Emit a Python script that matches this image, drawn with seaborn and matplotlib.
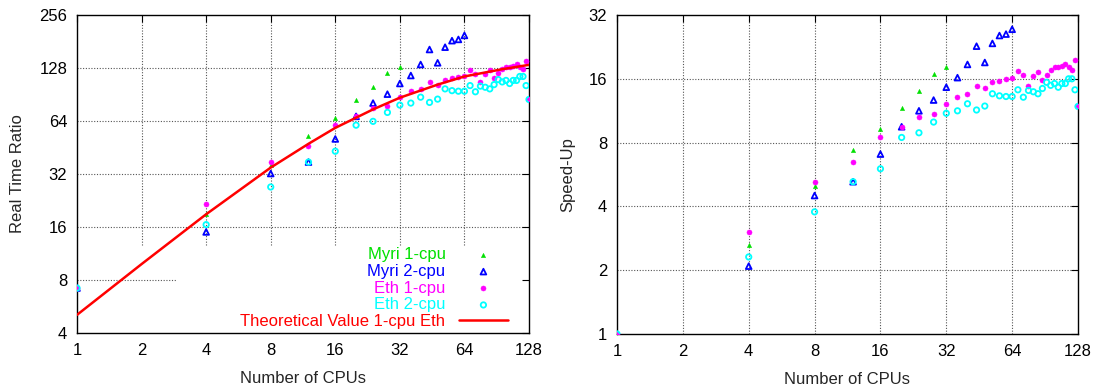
import matplotlib
matplotlib.use("Agg")
import matplotlib.pyplot as plt
import seaborn as sns
import pandas as pd
from matplotlib.ticker import FixedLocator, FixedFormatter, NullLocator

# ---------------- data ----------------
cpus_eth = [1, 4, 8, 12, 16, 20, 24, 28, 32, 36, 40, 44, 48, 52, 56, 60, 64,
            68, 72, 76, 80, 84, 88, 92, 96, 100, 104, 108, 112, 116, 120, 124, 128]
cpus_myri2 = [1, 4, 8, 12, 16, 20, 24, 28, 32, 36, 40, 44, 48, 52, 56, 60, 64]
cpus_myri1 = [1, 4, 8, 12, 16, 20, 24, 28, 32]

# Real time ratio (left panel)
rtr_myri1 = [7.2, 18.9, 35.8, 52.9, 66.2, 83.8, 100, 120, 130]
rtr_myri2 = [7.2, 15.0, 32.2, 37.4, 50.6, 68, 80.9, 90.9, 104.5, 116, 134, 163,
             137, 168, 183, 186, 196]
rtr_eth1 = [7.2, 21.6, 37.2, 46.3, 60.5, 68, 75.6, 77.8, 87.4, 94.5, 96.7, 106,
            103, 110, 112, 114, 115, 125, 119, 106, 118, 124, 113, 120, 126, 130,
            130, 131, 135, 130, 126, 141, 85]
rtr_eth2 = [7.2, 16.5, 27, 37.4, 43.1, 60.6, 63.7, 71.6, 78.8, 80.9, 87.4, 81.6,
            85.2, 97.4, 95.2, 94.5, 94.5, 101.7, 93.8, 101, 99.5, 97.4, 103, 110,
            106.7, 108.8, 104.5, 108.8, 108.8, 114.6, 114.6, 101.7, 84.8]

theory_cpus = [1, 2, 4, 8, 12, 16, 24, 32, 48, 64, 96, 128]
theory_rtr = [5.07, 9.85, 18.9, 34.8, 47.5, 58.5, 74.5, 86.8, 103, 114.6, 126, 133.4]

# Speed-up (right panel)
su_myri1 = [1, 2.64, 5.0, 7.39, 9.25, 11.7, 14.0, 16.8, 18.2]
su_myri2 = [1, 2.09, 4.5, 5.23, 7.06, 9.5, 11.3, 12.7, 14.6, 16.2, 18.7, 22.8,
            19.1, 23.5, 25.6, 26.0, 27.4]
su_eth1 = [1, 3.03, 5.2, 6.47, 8.46, 9.5, 10.56, 10.87, 12.2, 13.2, 13.5, 14.85,
           14.4, 15.4, 15.6, 15.9, 16.1, 17.5, 16.6, 14.8, 16.5, 17.3, 15.8, 16.7,
           17.6, 18.1, 18.1, 18.3, 18.8, 18.2, 17.6, 19.7, 11.85]
su_eth2 = [1, 2.31, 3.77, 5.23, 6.02, 8.46, 8.9, 10.0, 11.0, 11.3, 12.2, 11.4,
           11.9, 13.6, 13.3, 13.2, 13.2, 14.2, 13.1, 14.1, 13.9, 13.6, 14.4, 15.4,
           14.9, 15.2, 14.6, 15.2, 15.2, 16.0, 16.0, 14.2, 11.85]

x_ticks = [1, 2, 4, 8, 16, 32, 64, 128]
left_y_ticks = [4, 8, 16, 32, 64, 128, 256]
right_y_ticks = [1, 2, 4, 8, 16, 32]

labels = ["Myri 1-cpu", "Myri 2-cpu", "Eth 1-cpu", "Eth 2-cpu"]
theory_label = "Theoretical Value 1-cpu Eth"

# ---------------- style ----------------
sns.set_theme(style="white")
plt.rcParams["font.family"] = ["Liberation Sans", "DejaVu Sans"]
plt.rcParams["font.size"] = 12

C_GREEN = "#00e000"
C_BLUE = "#0000ff"
C_MAG = "#ff00ff"
C_CYAN = "#00ffff"
C_RED = "#ff0000"

fig = plt.figure(figsize=(11, 3.92), dpi=100)
axL = fig.add_axes([77 / 1100, 1 - 333 / 392, 452 / 1100, 318 / 392])
axR = fig.add_axes([617 / 1100, 1 - 334 / 392, 461 / 1100, 319 / 392])


def draw_series(ax, ys):
    h = []
    sns.scatterplot(x=cpus_myri1, y=ys[0], ax=ax, marker="^", s=9,
                    color=C_GREEN, edgecolor=C_GREEN, linewidth=0.4, zorder=3)
    h.append(ax.collections[-1])
    sns.scatterplot(x=cpus_myri2, y=ys[1], ax=ax, marker="^", s=17,
                    facecolors="none", edgecolor=C_BLUE, linewidth=1.3, zorder=3)
    h.append(ax.collections[-1])
    sns.scatterplot(x=cpus_eth, y=ys[2], ax=ax, marker="o", s=13,
                    color=C_MAG, edgecolor=C_MAG, linewidth=0.4, zorder=3)
    h.append(ax.collections[-1])
    sns.scatterplot(x=cpus_eth, y=ys[3], ax=ax, marker="o", s=15,
                    facecolors="none", edgecolor=C_CYAN, linewidth=1.3, zorder=3)
    h.append(ax.collections[-1])
    return h


hL = draw_series(axL, [rtr_myri1, rtr_myri2, rtr_eth1, rtr_eth2])
sns.lineplot(x=theory_cpus, y=theory_rtr, ax=axL, color=C_RED, linewidth=1.8,
             zorder=4)
line_handle = axL.lines[-1]
draw_series(axR, [su_myri1, su_myri2, su_eth1, su_eth2])


def setup(ax, yticks, ylabel):
    ax.set_xscale("log", base=2)
    ax.set_yscale("log", base=2)
    ax.set_xlim(x_ticks[0], x_ticks[-1])
    ax.set_ylim(yticks[0], yticks[-1])
    ax.xaxis.set_major_locator(FixedLocator(x_ticks))
    ax.xaxis.set_major_formatter(FixedFormatter([str(v) for v in x_ticks]))
    ax.yaxis.set_major_locator(FixedLocator(yticks))
    ax.yaxis.set_major_formatter(FixedFormatter([str(v) for v in yticks]))
    ax.xaxis.set_minor_locator(NullLocator())
    ax.yaxis.set_minor_locator(NullLocator())
    ax.tick_params(direction="in", length=5, width=0.8, top=True, right=True,
                   labelsize=12, colors="black", pad=7)
    for s in ax.spines.values():
        s.set_color("black")
        s.set_linewidth(1.0)
    ax.set_xlabel("Number of CPUs", fontsize=12)
    ax.set_ylabel(ylabel, fontsize=12)


setup(axL, left_y_ticks, "Real Time Ratio")
setup(axR, right_y_ticks, "Speed-Up")

grid_kw = dict(color="#555555", linestyle=(0, (1, 1.5)), linewidth=0.8, zorder=0.5)
# right: full grid
for v in x_ticks[1:-1]:
    axR.axvline(v, **grid_kw)
for v in right_y_ticks[1:-1]:
    axR.axhline(v, **grid_kw)
# left: grid cleared behind the key area
key_top = (333 - 245) / 318
key_left = (177 - 77) / 452
for v in x_ticks[1:-1]:
    axL.axvline(v, ymin=key_top, ymax=1, **grid_kw)
for v in left_y_ticks[1:-1]:
    frac = (left_y_ticks.index(v)) / (len(left_y_ticks) - 1)
    if frac < key_top:
        axL.axhline(v, xmin=0, xmax=key_left, **grid_kw)
    else:
        axL.axhline(v, **grid_kw)

axL.xaxis.set_label_coords(0.5, -0.12)
axR.xaxis.set_label_coords(0.5, -0.12)
axL.yaxis.set_label_coords(-0.115, 0.5)
axR.yaxis.set_label_coords(-0.091, 0.5)

leg = axL.legend(hL + [line_handle], labels + [theory_label],
                 loc="lower right", bbox_to_anchor=((508 - 77) / 452, 4 / 318),
                 markerfirst=False, frameon=False, fontsize=12,
                 labelcolor=[C_GREEN, C_BLUE, C_MAG, C_CYAN, C_RED],
                 handlelength=2.95, handletextpad=0.8, labelspacing=0.1,
                 handleheight=0.7, borderpad=0, borderaxespad=0, scatterpoints=1)

fig.savefig("out.png", dpi=100)
